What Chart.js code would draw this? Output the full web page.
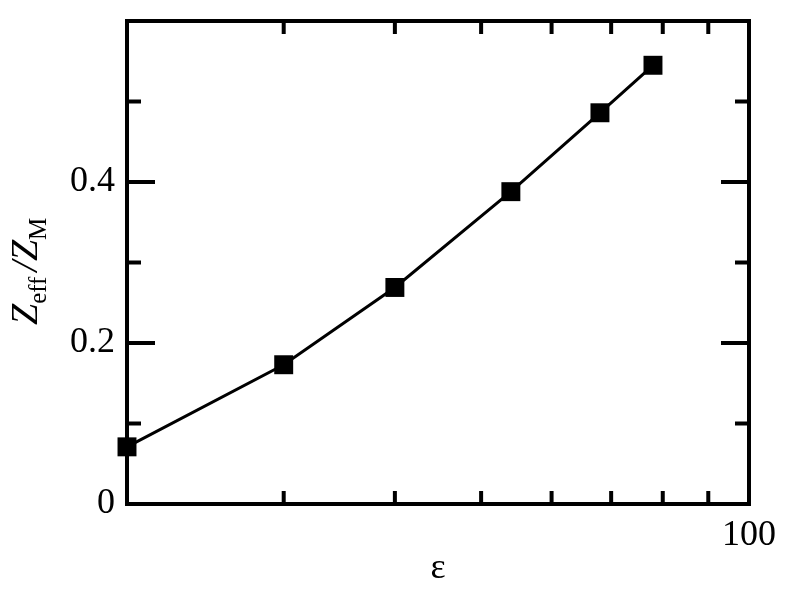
<!DOCTYPE html>
<html>
<head>
    <meta charset="utf-8">
    <title>Zeff / ZM vs epsilon</title>
    <script src="https://cdn.jsdelivr.net/npm/chart.js"></script>
    <style>
        html, body { margin: 0; padding: 0; background: #fff; }
        #wrap { width: 789px; height: 590px; }
    </style>
</head>
<body>
<div id="wrap"><canvas id="zChart"></canvas></div>
<script>
    // values
    const epsilon = [20, 30, 40, 54, 68, 78];
    const zRatio = [0.071, 0.173, 0.269, 0.388, 0.486, 0.545];

    const xTicks = [20, 30, 40, 50, 60, 70, 80, 90, 100];
    const xLabelled = [100];
    const yTicks = [0, 0.1, 0.2, 0.3, 0.4, 0.5, 0.6];
    const yLabelled = [0, 0.2, 0.4];

    const serif = '"Liberation Serif", "DejaVu Serif", serif';

    // frame, inward ticks on all four sides, and the y title with subscripts
    const framePlugin = {
        id: 'frame',
        beforeDatasetsDraw(chart) {
            const { ctx, chartArea: a, scales } = chart;
            ctx.save();
            ctx.strokeStyle = '#000';
            ctx.lineWidth = 4;
            ctx.lineCap = 'butt';
            ctx.beginPath();
            xTicks.forEach((v) => {
                if (v === 20 || v === 100) return;
                const px = scales.x.getPixelForValue(v);
                ctx.moveTo(px, a.bottom);
                ctx.lineTo(px, a.bottom - 13);
                ctx.moveTo(px, a.top);
                ctx.lineTo(px, a.top + 13);
            });
            yTicks.forEach((v) => {
                if (v === 0 || v === 0.6) return;
                const py = scales.y.getPixelForValue(v);
                const len = yLabelled.includes(v) ? 28 : 14;
                ctx.moveTo(a.left, py);
                ctx.lineTo(a.left + len, py);
                ctx.moveTo(a.right, py);
                ctx.lineTo(a.right - len, py);
            });
            ctx.stroke();
            ctx.lineJoin = 'miter';
            ctx.strokeRect(a.left, a.top, a.right - a.left, a.bottom - a.top);
            ctx.restore();
        },
        afterDraw(chart) {
            const { ctx } = chart;
            ctx.save();
            ctx.translate(37, 325);
            ctx.rotate(-Math.PI / 2);
            ctx.fillStyle = '#000';
            ctx.textBaseline = 'alphabetic';
            const big = 'italic 38px ' + serif;
            const small = '25px ' + serif;
            let x = 0;
            const put = (txt, font, dy) => {
                ctx.font = font;
                ctx.fillText(txt, x, dy);
                x += ctx.measureText(txt).width;
            };
            put('Z', big, 0);
            put('eff', small, 9);
            x += 5;
            put('/', big, 0);
            put('Z', big, 0);
            put('M', small, 9);
            ctx.restore();
        }
    };

    new Chart(document.getElementById('zChart'), {
        type: 'line',
        data: {
            datasets: [{
                data: epsilon.map((e, i) => ({ x: e, y: zRatio[i] })),
                borderColor: '#000',
                backgroundColor: '#000',
                borderWidth: 3,
                pointStyle: 'rect',
                pointRadius: 13.4,
                pointHoverRadius: 13.4,
                pointBorderWidth: 0,
                clip: false,
                tension: 0
            }]
        },
        options: {
            responsive: true,
            maintainAspectRatio: false,
            animation: false,
            events: [],
            layout: { padding: { top: 21, right: 40, left: 0, bottom: 0 } },
            plugins: {
                legend: { display: false },
                tooltip: { enabled: false }
            },
            scales: {
                x: {
                    type: 'logarithmic',
                    min: 20,
                    max: 100,
                    grid: { display: false, drawTicks: false },
                    border: { display: false },
                    afterBuildTicks: (scale) => {
                        scale.ticks = xTicks.map((v) => ({ value: v }));
                    },
                    afterFit: (scale) => {
                        scale.height = 86;
                        scale.paddingLeft = 0;
                        scale.paddingRight = 0;
                    },
                    ticks: {
                        autoSkip: false,
                        maxRotation: 0,
                        padding: 10,
                        color: '#000',
                        font: { family: serif, size: 36 },
                        callback: (v) => (xLabelled.includes(v) ? String(v) : '')
                    },
                    title: {
                        display: true,
                        text: 'ε',
                        color: '#000',
                        font: { family: serif, size: 36 },
                        padding: { top: 0, bottom: 0 }
                    }
                },
                y: {
                    min: 0,
                    max: 0.6,
                    grid: { display: false, drawTicks: false },
                    border: { display: false },
                    afterBuildTicks: (scale) => {
                        scale.ticks = yTicks.map((v) => ({ value: v }));
                    },
                    afterFit: (scale) => {
                        scale.width = 127;
                        scale.paddingTop = 0;
                        scale.paddingBottom = 0;
                    },
                    ticks: {
                        padding: 12,
                        color: '#000',
                        font: { family: serif, size: 36 },
                        callback: (v) => {
                            const r = Math.round(v * 10) / 10;
                            return yLabelled.includes(r) ? String(r) : '';
                        }
                    }
                }
            }
        },
        plugins: [framePlugin]
    });
</script>
</body>
</html>
